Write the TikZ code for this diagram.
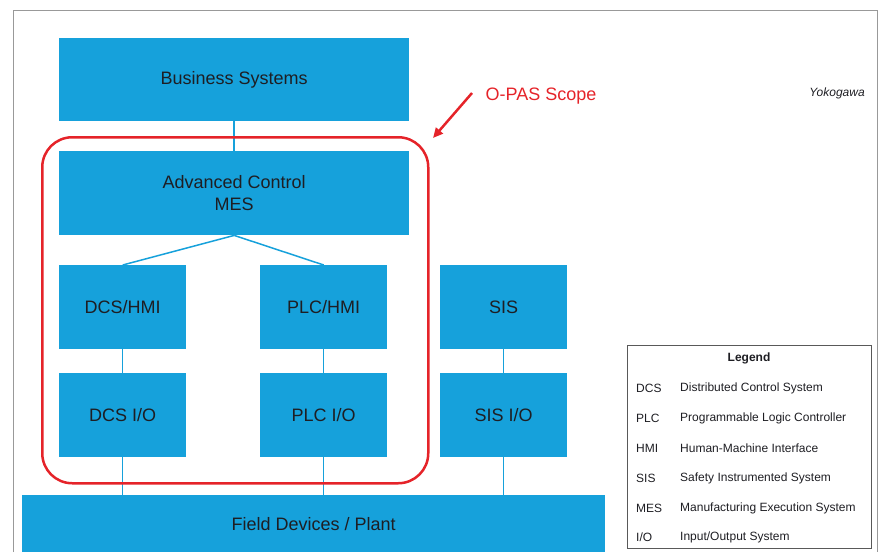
\documentclass[tikz,border=0pt]{standalone}
\usepackage{fontspec}
\setmainfont{Liberation Sans}
\usetikzlibrary{arrows.meta}
\definecolor{boxblue}{RGB}{22,161,219}
\definecolor{scopered}{RGB}{229,35,41}
\definecolor{txtdark}{RGB}{30,30,35}
\begin{document}
\begin{tikzpicture}[x=1pt,y=-1pt,
  blk/.style={fill=boxblue, draw=none, inner sep=0pt, anchor=north west,
    font=\fontsize{18}{22}\selectfont, text=txtdark, align=center},
  conn/.style={draw=boxblue, line width=1.5pt},
  legabbr/.style={anchor=west, inner sep=0pt, font=\fontsize{12}{14}\selectfont, text=txtdark},
  legdesc/.style={anchor=west, inner sep=0pt, font=\fontsize{12}{14}\selectfont, text=txtdark}
]
\useasboundingbox (0,0) rectangle (880,552);
% outer frame
\draw[gray!80, line width=1pt] (13,552) -- (13,10) -- (877,10) -- (877,552);

% blocks
\node[blk, minimum width=350pt, minimum height=83pt] (bus) at (59,38) {Business Systems};
\node[blk, minimum width=350pt, minimum height=84pt] (adv) at (59,151) {Advanced Control\\MES};
\node[blk, minimum width=127pt, minimum height=84pt] (dcsh) at (59,265) {DCS/HMI};
\node[blk, minimum width=127pt, minimum height=84pt] (plch) at (260,265) {PLC/HMI};
\node[blk, minimum width=127pt, minimum height=84pt] (sis) at (440,265) {SIS};
\node[blk, minimum width=127pt, minimum height=84pt] (dcsio) at (59,373) {DCS I/O};
\node[blk, minimum width=127pt, minimum height=84pt] (plcio) at (260,373) {PLC I/O};
\node[blk, minimum width=127pt, minimum height=84pt] (sisio) at (440,373) {SIS I/O};
\node[blk, minimum width=583pt, minimum height=57pt] (field) at (22,495) {Field Devices / Plant};

% connectors
\draw[conn] (bus.south) -- (adv.north);
\draw[conn] (adv.south) -- (dcsh.north);
\draw[conn] (adv.south) -- (plch.north);
\draw[conn] (dcsh.south) -- (dcsio.north);
\draw[conn] (plch.south) -- (plcio.north);
\draw[conn] (sis.south) -- (sisio.north);
\draw[conn] (dcsio.south) -- (dcsio.south |- field.north);
\draw[conn] (plcio.south) -- (plcio.south |- field.north);
\draw[conn] (sisio.south) -- (sisio.south |- field.north);

% O-PAS scope
\node[draw=scopered, line width=2.5pt, rounded corners=30pt, minimum width=386pt, minimum height=346pt, anchor=north west, inner sep=0pt] (scope) at (41,136) {};
\node[text=scopered, font=\fontsize{18}{22}\selectfont, inner sep=0pt] (opas) at (541,96) {O-PAS Scope};
\coordinate (arrstart) at (472,93);
\coordinate (arrtip) at (433,138);
\draw[scopered, line width=2.5pt, -{Triangle[length=10pt,width=9pt]}] (arrstart) -- (arrtip);

% credit
\node[font=\itshape\fontsize{12}{14}\selectfont, text=txtdark, inner sep=0pt] (credit) at (837,93) {Yokogawa};

% legend
\node[draw=gray!70!black, line width=1pt, minimum width=244pt, minimum height=203pt, anchor=north west, inner sep=0pt] (legend) at (627,345) {};
\node[font=\bfseries\fontsize{12}{14}\selectfont, text=txtdark, inner sep=0pt] (legtitle) at (749,358) {Legend};
\node[legabbr] (a1) at (636,388) {DCS}; \node[legdesc] (d1) at (680,388) {Distributed Control System};
\node[legabbr] (a2) at (636,418) {PLC}; \node[legdesc] (d2) at (680,418) {Programmable Logic Controller};
\node[legabbr] (a3) at (636,448) {HMI}; \node[legdesc] (d3) at (680,448) {Human-Machine Interface};
\node[legabbr] (a4) at (636,478) {SIS}; \node[legdesc] (d4) at (680,478) {Safety Instrumented System};
\node[legabbr] (a5) at (636,508) {MES}; \node[legdesc] (d5) at (680,508) {Manufacturing Execution System};
\node[legabbr] (a6) at (636,537) {I/O}; \node[legdesc] (d6) at (680,537) {Input/Output System};
\end{tikzpicture}
\end{document}
